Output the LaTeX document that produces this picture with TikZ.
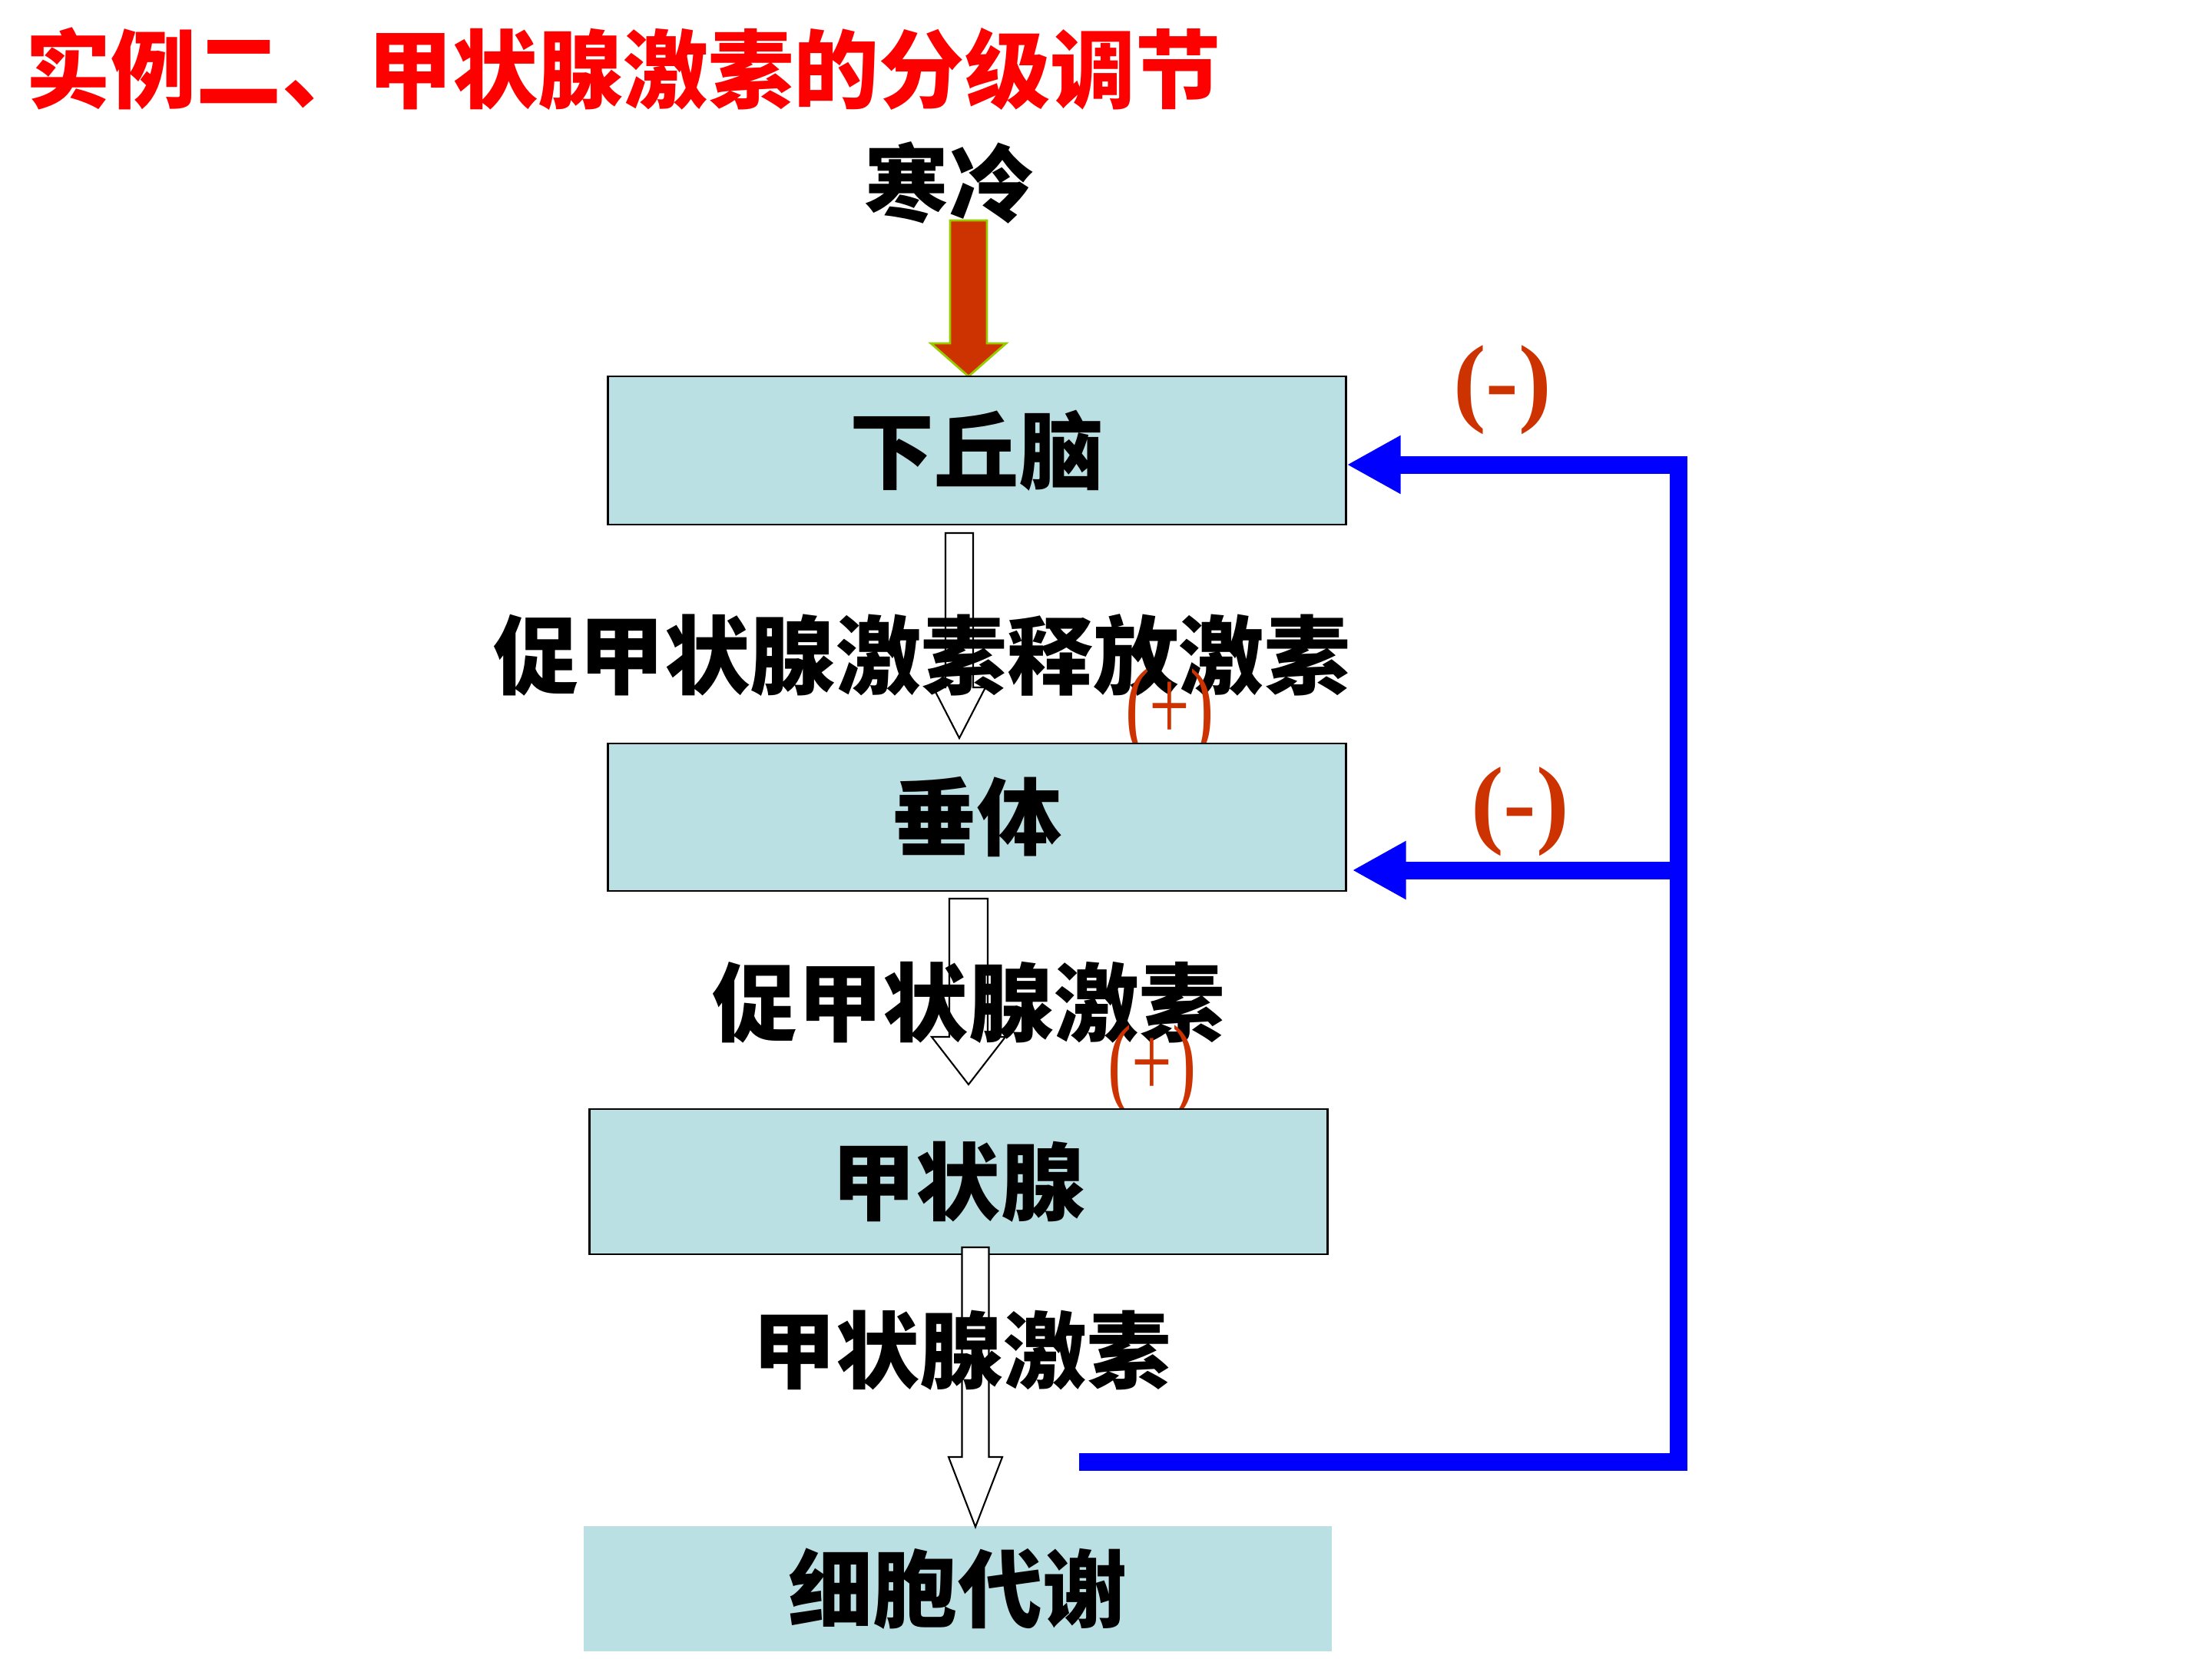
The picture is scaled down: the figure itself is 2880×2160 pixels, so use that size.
\documentclass[tikz,border=0pt]{standalone}
\usepackage{fontspec}
\usepackage{graphicx}
\setmainfont{Liberation Serif}
\newfontfamily\cjk{Noto Sans CJK SC}
\usetikzlibrary{arrows.meta,calc}
\definecolor{boxfill}{RGB}{186,224,227}
\definecolor{signc}{RGB}{204,51,0}
\definecolor{fbblue}{RGB}{0,0,255}
\definecolor{arrowedge}{RGB}{153,204,0}
\newcommand\harrow[6]{% cx top neck tip shaft-half head-half
  \draw[hollow] (#1-#5,#2) -- (#1+#5,#2) -- (#1+#5,#3) -- (#1+#6,#3) -- (#1,#4)
    -- (#1-#6,#3) -- (#1-#5,#3) -- cycle;}
\tikzset{
  organ/.style={draw=black, line width=0.7pt, fill=boxfill, inner sep=0pt,
    minimum width=9.6cm, font=\cjk\bfseries\fontsize{31.3pt}{36pt}\selectfont},
  plainorgan/.style={fill=boxfill, inner sep=0pt,
    font=\cjk\bfseries\fontsize{31.3pt}{36pt}\selectfont},
  hollow/.style={draw=black, line width=0.6pt, fill=white, line join=miter},
  coldarrow/.style={draw=arrowedge, line width=0.8pt, fill=signc, line join=miter},
  hormone/.style={inner sep=0pt, text=black},
  minus/.style={inner sep=0pt, text=signc, font=\bfseries\fontsize{36.4pt}{40pt}\selectfont},
  plus/.style={inner sep=0pt, text=signc, font=\fontsize{38pt}{42pt}\selectfont},
  fb/.style={draw=fbblue, line width=0.23cm, line join=miter, line cap=butt,
    -{Triangle[length=0.7cm, width=0.71cm]}},
}
\begin{document}
\begin{tikzpicture}[x=0.01cm, y=-0.01cm]
  \useasboundingbox (0,0) rectangle (2880,2160);
  \fill[white] (0,0) rectangle (2880,2160);

  % title
  \node[anchor=west, inner sep=0pt, text=red,
        font=\cjk\bfseries\fontsize{31.6pt}{36pt}\selectfont] (title) at (33,90)
        {实例二、甲状腺激素的分级调节};

  % cold stimulus
  \node[hormone, font=\cjk\bfseries\fontsize{31.3pt}{36pt}\selectfont] (cold) at (1236,238) {寒冷};
  \draw[coldarrow] (1237,287) -- (1285,287) -- (1285,447) -- (1310,447) -- (1261,490)
     -- (1212,447) -- (1237,447) -- cycle;

  % hollow arrows between the upper boxes
  \harrow{1249}{694}{895}{961}{18}{34}
  \harrow{1261}{1170}{1350}{1412}{25}{48}

  % hormone labels over the arrows
  \node[hormone, font=\cjk\bfseries\fontsize{34pt}{40pt}\selectfont] (h1) at (1200,853)
    {\resizebox{11.15cm}{!}{促甲状腺激素释放激素}};
  \node[hormone, font=\cjk\bfseries\fontsize{31.6pt}{36pt}\selectfont] (h2) at (1261,1305) {促甲状腺激素};

  % (+) signs (over the labels, partly hidden behind the boxes)
  \node[plus] (p1) at (1523,931) {\scalebox{0.7}[1]{(+)}};
  \node[plus] (p2) at (1500,1395) {\scalebox{0.7}[1]{(+)}};

  % boxes
  \node[organ, minimum height=1.93cm] (b1) at (1272,586.5) {下丘脑};
  \node[organ, minimum height=1.92cm] (b2) at (1272,1064) {垂体};
  \node[organ, minimum height=1.89cm] (b3) at (1248,1538.5) {甲状腺};
  \node[plainorgan, minimum width=9.74cm, minimum height=1.63cm] (b4) at (1247,2068.5) {细胞代谢};

  % hollow arrow from the thyroid
  \harrow{1270}{1624}{1897}{1988}{17.5}{35}
  \node[hormone, font=\cjk\bfseries\fontsize{31pt}{36pt}\selectfont] (h3) at (1252,1758) {甲状腺激素};

  % negative feedback
  \coordinate (c0) at (1405,1903);
  \coordinate (c1) at (2185,605);
  \coordinate (c2) at (2185,1133);
  \draw[fb] (c0) -- (c0 -| c1) -- (c1) -- (c1 -| b1.east);
  \draw[fb] (c2) -- ($(c2 -| b2.east)+(7,0)$);
  \node[minus] (m1) at (1956,508) {(-)};
  \node[minus] (m2) at (1979,1057) {(-)};
\end{tikzpicture}
\end{document}
